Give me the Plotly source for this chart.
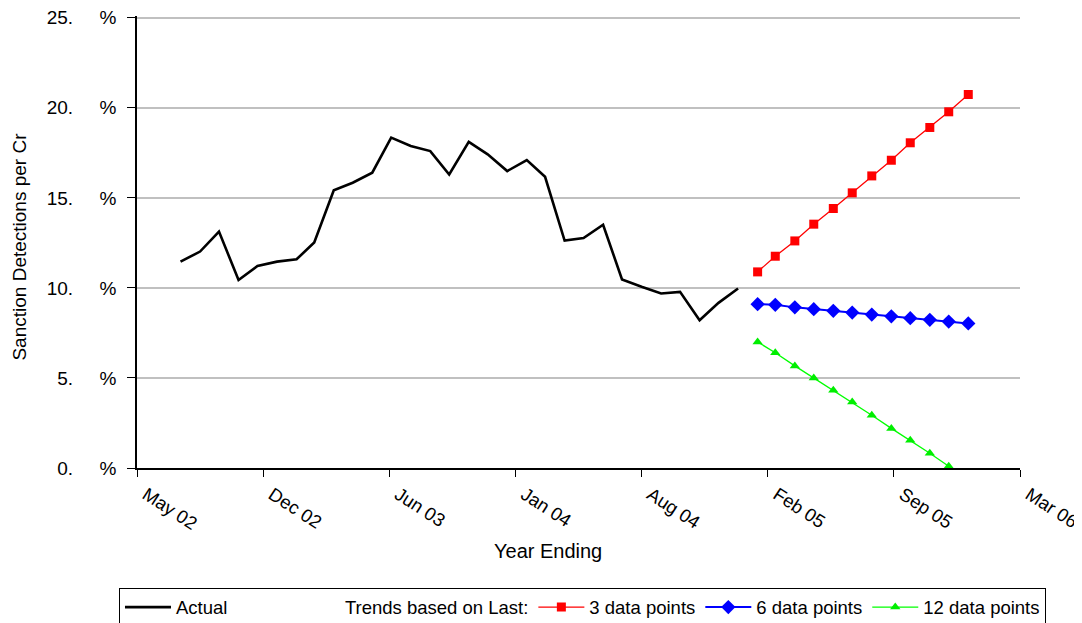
import plotly.graph_objects as go

# ---------------- data ----------------
actual_months = ["2002-08", "2002-09", "2002-10", "2002-11", "2002-12",
                 "2003-01", "2003-02", "2003-03", "2003-04", "2003-05", "2003-06",
                 "2003-07", "2003-08", "2003-09", "2003-10", "2003-11", "2003-12",
                 "2004-01", "2004-02", "2004-03", "2004-04", "2004-05", "2004-06",
                 "2004-07", "2004-08", "2004-09", "2004-10", "2004-11", "2004-12",
                 "2005-01"]
actual_values = [11.46, 12.02, 13.13, 10.44, 11.22, 11.46, 11.59, 12.52, 15.42,
                 15.84, 16.40, 18.35, 17.88, 17.60, 16.30, 18.11, 17.42, 16.49,
                 17.10, 16.17, 12.63, 12.77, 13.51, 10.47, 10.06, 9.69, 9.78,
                 8.20, 9.17, 9.97]

trend_months = ["2005-02", "2005-03", "2005-04", "2005-05", "2005-06", "2005-07",
                "2005-08", "2005-09", "2005-10", "2005-11", "2005-12", "2006-01"]
trend_3 = [10.89, 11.76, 12.61, 13.54, 14.41, 15.28, 16.22, 17.09, 18.06, 18.91, 19.78, 20.74]
trend_6 = [9.10, 9.06, 8.92, 8.82, 8.73, 8.63, 8.52, 8.42, 8.32, 8.23, 8.13, 8.03]
trend_12 = [7.00, 6.40, 5.67, 5.00, 4.32, 3.66, 2.93, 2.20, 1.54, 0.82, 0.10, -0.62]

x_tick_dates = ["2002-05-24", "2002-12-10", "2003-06-28", "2004-01-14",
                "2004-08-01", "2005-02-17", "2005-09-05", "2006-03-24"]
x_tick_labels = ["May 02", "Dec 02", "Jun 03", "Jan 04", "Aug 04", "Feb 05", "Sep 05", "Mar 06"]
y_tick_values = [0, 5, 10, 15, 20, 25]
y_tick_labels = ["0.", "5.", "10.", "15.", "20.", "25."]

FONT = "Arial, 'Liberation Sans', sans-serif"
NB = "\u00a0"

fig = go.Figure()
fig.add_trace(go.Scatter(x=actual_months, y=actual_values, mode="lines",
                         name="Actual" + NB * 11,
                         line=dict(color="black", width=2.6)))
fig.add_trace(go.Scatter(x=[None], y=[None], mode="lines",
                         name="Trends based on Last:",
                         line=dict(color="rgba(0,0,0,0)", width=0),
                         showlegend=True))
fig.add_trace(go.Scatter(x=trend_months, y=trend_3, mode="lines+markers",
                         name="3 data points",
                         line=dict(color="#ff0000", width=1.3),
                         marker=dict(symbol="square", size=9, color="#ff0000")))
fig.add_trace(go.Scatter(x=trend_months, y=trend_6, mode="lines+markers",
                         name="6 data points",
                         line=dict(color="#0000ff", width=2),
                         marker=dict(symbol="diamond", size=11, color="#0000ff")))
fig.add_trace(go.Scatter(x=trend_months, y=trend_12, mode="lines+markers",
                         name="12 data points",
                         line=dict(color="#00ff00", width=1.3),
                         marker=dict(symbol="triangle-up", size=9, color="#00ee00")))

# page body has an 8px default margin: figure is sized to fit the window after it
fig.update_layout(
    width=1074, height=615,
    margin=dict(l=129, r=62, t=8.2, b=155, autoexpand=False),
    paper_bgcolor="white", plot_bgcolor="white",
    font=dict(family=FONT, size=18, color="black"),
    showlegend=True,
    legend=dict(orientation="h", x=-0.0204, xanchor="left",
                y=-0.2645, yanchor="top",
                bordercolor="black", borderwidth=1, bgcolor="white",
                font=dict(family=FONT, size=18.5), itemwidth=46, traceorder="normal"),
    xaxis=dict(type="date", range=[x_tick_dates[0], x_tick_dates[-1]],
               tickmode="array", tickvals=x_tick_dates, ticktext=x_tick_labels,
               tickangle=33, ticks="outside", ticklen=7, tickcolor="black",
               ticklabelshift=9,
               showline=True, linecolor="black", linewidth=1.5,
               showgrid=False, zeroline=False, automargin=False,
               tickfont=dict(family=FONT, size=18.5)),
    yaxis=dict(range=[0, 25.1], tickmode="array", tickvals=y_tick_values,
               ticktext=[t + NB * 5 + "%" for t in y_tick_labels],
               ticks="outside", ticklen=8, tickcolor="black",
               showline=True, linecolor="black", linewidth=1.5,
               showgrid=True, gridcolor="#c0c0c0", gridwidth=1.5,
               zeroline=False, ticklabelstandoff=7, automargin=False,
               ticklabeloverflow="allow",
               tickfont=dict(family=FONT, size=19)),
    annotations=[
        dict(text="Sanction Detections per Cr", xref="paper", yref="paper",
             x=-0.1336, y=0.49, textangle=-90, showarrow=False,
             xanchor="center", yanchor="middle", font=dict(family=FONT, size=19)),
        dict(text="Year Ending", xref="paper", yref="paper",
             x=0.4658, y=-0.1827, showarrow=False,
             xanchor="center", yanchor="middle", font=dict(family=FONT, size=20)),
    ],
)

fig.write_html("out.html")
